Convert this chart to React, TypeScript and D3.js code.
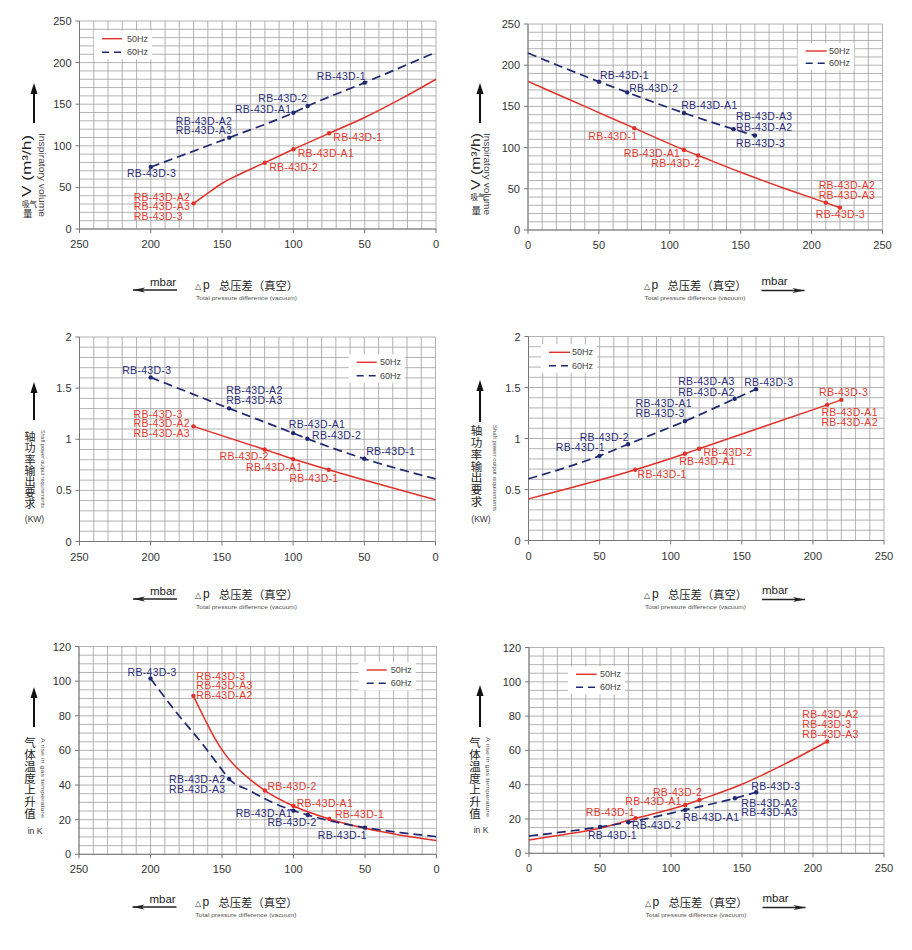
import React from 'react';
import * as d3 from 'd3';

// ---------- tick values ----------
const xTicks = [0, 50, 100, 150, 200, 250];
const volTicks = [0, 50, 100, 150, 200, 250];
const powTicks = [0, 0.5, 1, 1.5, 2];
const tempTicks = [0, 20, 40, 60, 80, 100, 120];

// ---------- series (x = mbar, y = value) ----------
// Inspiratory volume, left (reversed x)
const volL60 = [[200, 74.5], [145, 109.8], [100, 139.8], [90, 147.8], [50, 175.9], [0, 212.5]];
const volL50 = [[170, 30.8], [160, 43], [150, 55], [140, 64], [120, 79.7], [100, 95.8], [75, 115], [50, 134], [25, 156], [0, 180]];
const volL60Pts = [[200, 74.5], [145, 109.8], [100, 139.8], [90, 147.8], [50, 175.9]];
const volL50Pts = [[170, 30.8], [120, 79.7], [100, 95.8], [75, 115]];
// Inspiratory volume, right
const volR60 = [[0, 214.7], [50, 180], [70, 167], [110, 142], [145, 122.4], [160, 114.7]];
const volR50 = [[0, 180.3], [25, 161.4], [50, 142.5], [75, 123.6], [110, 97.2], [120, 90.4], [150, 70], [180, 51], [210, 33.2], [220, 27.1]];
const volR60Pts = [[50, 180], [70, 167], [110, 142], [145, 122.4], [160, 114.7]];
const volR50Pts = [[75, 123.6], [110, 97.2], [120, 90.4], [210, 33.2], [220, 27.1]];
// Shaft power, left (reversed x)
const powL60 = [[200, 1.605], [145, 1.302], [100, 1.06], [90, 1.005], [50, 0.809], [0, 0.613]];
const powL50 = [[170, 1.126], [120, 0.9], [100, 0.806], [75, 0.701], [0, 0.408]];
const powL60Pts = [[200, 1.605], [145, 1.302], [100, 1.06], [90, 1.005], [50, 0.809]];
const powL50Pts = [[170, 1.126], [120, 0.9], [100, 0.806], [75, 0.701]];
// Shaft power, right
const powR60 = [[0, 0.605], [50, 0.83], [70, 0.944], [110, 1.17], [145, 1.389], [160, 1.484]];
const powR50 = [[0, 0.408], [75, 0.693], [110, 0.85], [120, 0.899], [210, 1.33], [220, 1.379]];
const powR60Pts = [[50, 0.83], [70, 0.944], [110, 1.17], [145, 1.389], [160, 1.484]];
const powR50Pts = [[75, 0.693], [110, 0.85], [120, 0.899], [210, 1.33], [220, 1.379]];
// Gas temperature rise, left (reversed x)
const tmpL60 = [[200, 101.5], [182, 82], [163, 63], [152, 51], [145, 43.5], [130, 36.5], [115, 30], [100, 25.2], [90, 22.7], [70, 18.5], [50, 15.4], [25, 12.5], [0, 10.2]];
const tmpL50 = [[170, 91.5], [162, 78], [155, 67], [148, 58], [142, 52], [130, 43], [120, 36.8], [100, 27.9], [75, 20.4], [50, 15], [25, 11], [0, 7.9]];
const tmpL60Pts = [[200, 101.5], [145, 43.5], [100, 25.2], [90, 22.7], [50, 15.4]];
const tmpL50Pts = [[170, 91.5], [120, 36.8], [100, 27.9], [75, 20.4]];
// Gas temperature rise, right
const tmpR60 = [[0, 10.1], [50, 15.4], [70, 18.1], [110, 25.3], [145, 32.1], [160, 35.6]];
const tmpR50 = [[0, 7.8], [25, 11], [50, 14.6], [75, 20.4], [110, 28.2], [120, 31.1], [150, 40.3], [180, 52], [210, 65.2]];
const tmpR60Pts = [[50, 15.4], [70, 18.1], [110, 25.3], [145, 32.1], [160, 35.6]];
const tmpR50Pts = [[75, 20.4], [110, 28.2], [120, 31.1], [210, 65.2]];

// ---------- point labels: [series, text, x, y(baseline)] ----------
const volLLabels = [
  ['60', 'RB-43D-1', 83.6, 179], ['60', 'RB-43D-2', 124.6, 153], ['60', 'RB-43D-A1', 141, 140],
  ['60', 'RB-43D-A2', 182.5, 125], ['60', 'RB-43D-A3', 182.5, 114], ['60', 'RB-43D-3', 216.7, 62],
  ['50', 'RB-43D-1', 72, 106], ['50', 'RB-43D-A1', 97, 87], ['50', 'RB-43D-2', 117, 70],
  ['50', 'RB-43D-A2', 212, 34], ['50', 'RB-43D-A3', 212, 23], ['50', 'RB-43D-3', 212, 11],
];
const volRLabels = [
  ['60', 'RB-43D-1', 50.7, 183], ['60', 'RB-43D-2', 71.4, 167], ['60', 'RB-43D-A1', 108, 146.7],
  ['60', 'RB-43D-A3', 146.7, 132.9], ['60', 'RB-43D-A2', 146.7, 120.7], ['60', 'RB-43D-3', 146.7, 101.3],
  ['50', 'RB-43D-1', 42.5, 109.4], ['50', 'RB-43D-A1', 67.6, 89], ['50', 'RB-43D-2', 87, 77],
  ['50', 'RB-43D-A2', 205, 49.8], ['50', 'RB-43D-A3', 205, 37.7], ['50', 'RB-43D-3', 203, 14.2],
];
const powLLabels = [
  ['60', 'RB-43D-3', 220, 1.638], ['60', 'RB-43D-A2', 147, 1.442], ['60', 'RB-43D-A3', 147, 1.344],
  ['60', 'RB-43D-A1', 103, 1.109], ['60', 'RB-43D-2', 86.7, 1.005], ['60', 'RB-43D-1', 48.7, 0.842],
  ['50', 'RB-43D-3', 212, 1.207], ['50', 'RB-43D-A2', 212, 1.116], ['50', 'RB-43D-A3', 212, 1.018],
  ['50', 'RB-43D-2', 151.6, 0.793], ['50', 'RB-43D-A1', 133, 0.685], ['50', 'RB-43D-1', 102.6, 0.581],
];
const powRLabels = [
  ['60', 'RB-43D-A3', 105.3, 1.52], ['60', 'RB-43D-A2', 105.3, 1.42], ['60', 'RB-43D-3', 151.7, 1.516],
  ['60', 'RB-43D-A1', 75.3, 1.304], ['60', 'RB-43D-3', 75.3, 1.206], ['60', 'RB-43D-2', 36, 0.977],
  ['60', 'RB-43D-1', 19.2, 0.873], ['50', 'RB-43D-3', 204.3, 1.412], ['50', 'RB-43D-A1', 206, 1.216],
  ['50', 'RB-43D-A2', 206, 1.118], ['50', 'RB-43D-2', 123, 0.83], ['50', 'RB-43D-A1', 106, 0.742],
  ['50', 'RB-43D-1', 76.7, 0.611],
];
const tmpLLabels = [
  ['60', 'RB-43D-3', 216, 103.2], ['50', 'RB-43D-3', 168, 100.7], ['50', 'RB-43D-A3', 168, 95.5],
  ['50', 'RB-43D-A2', 168, 89.8], ['60', 'RB-43D-A2', 187, 41.4], ['60', 'RB-43D-A3', 187, 35.6],
  ['50', 'RB-43D-2', 118.2, 37.4], ['50', 'RB-43D-A1', 97.8, 27.5], ['60', 'RB-43D-A1', 140.4, 21.8],
  ['50', 'RB-43D-1', 71, 20.8], ['60', 'RB-43D-2', 118.2, 16.6], ['60', 'RB-43D-1', 83, 8.9],
];
const tmpRLabels = [
  ['50', 'RB-43D-A2', 192.5, 78.8], ['50', 'RB-43D-3', 192.5, 72.9], ['50', 'RB-43D-A3', 192.5, 67.1],
  ['60', 'RB-43D-3', 156.6, 37], ['50', 'RB-43D-2', 87.3, 33.5], ['50', 'RB-43D-A1', 67.8, 28.2],
  ['60', 'RB-43D-A2', 149.5, 27.2], ['60', 'RB-43D-A3', 149.5, 21.8], ['60', 'RB-43D-A1', 108.5, 19.1],
  ['50', 'RB-43D-1', 40, 21.8], ['60', 'RB-43D-2', 72.5, 14], ['60', 'RB-43D-1', 41.5, 8.4],
];

const legendNames = ['50Hz', '60Hz'];
const xTitleCn = '总压差（真空）';
const xTitleEn = 'Total pressure difference (vacuum)';
const unitText = 'mbar';

// ---------- styles ----------
const FONT = '"Liberation Sans", Arial, Helvetica, sans-serif';
const CJK = '"Noto Sans CJK SC", "Noto Sans", sans-serif';
const RED = '#e2312a';
const NAVY = '#1f2870';
const LRED = '#e4392f';
const LNAVY = '#2a2e7c';
const GRID = '#a0a0a0';

type Pt = number[];

const panels = [
  {
    key: 'p1', left: 79.5, right: 436, top: 21, bottom: 229, reversed: true, yMax: 250, yStep: 10,
    yTicks: volTicks, s50: volL50, s60: volL60, m50: volL50Pts, m60: volL60Pts, labels: volLLabels,
    legend: { x0: 102, x1: 122, tx: 127, y1: 38.7, y2: 52.3 }, row: 0,
    yt: { type: 'vol', ax: 34, tip: 83, base: 123, rx: 27, ry: 197, rlen: 62, cn1: [22, 207], cn2: [23, 216.5], ex: 41.5, ey: 133, elen: 84 },
  },
  {
    key: 'p2', left: 528, right: 882.5, top: 24, bottom: 230, reversed: false, yMax: 250, yStep: 10,
    yTicks: volTicks, s50: volR50, s60: volR60, m50: volR50Pts, m60: volR60Pts, labels: volRLabels,
    legend: { x0: 805.7, x1: 826.7, tx: 829, y1: 51, y2: 63.3 }, row: 0,
    yt: { type: 'vol', ax: 480, tip: 83, base: 123, rx: 475.5, ry: 190, rlen: 57, cn1: [470.5, 200], cn2: [471.5, 214], ex: 487, ey: 133, elen: 82 },
  },
  {
    key: 'p3', left: 79.5, right: 435.5, top: 337, bottom: 541.5, reversed: true, yMax: 2, yStep: 0.1,
    yTicks: powTicks, s50: powL50, s60: powL60, m50: powL50Pts, m60: powL60Pts, labels: powLLabels,
    legend: { x0: 356.7, x1: 376.7, tx: 380, y1: 362.3, y2: 375.7 }, row: 1,
    yt: { type: 'stack', ax: 34, tip: 382, base: 420, cn: '轴功率输出要求', cx: 30, cy0: 431.5, cstep: 11.2, csize: 11,
      unit: '(KW)', ux: 34.5, uy: 522, en: 'Shaft power output requirements', ex: 43.3, ey: 430, elen: 78 },
  },
  {
    key: 'p4', left: 528.5, right: 884, top: 336.5, bottom: 540.5, reversed: false, yMax: 2, yStep: 0.1,
    yTicks: powTicks, s50: powR50, s60: powR60, m50: powR50Pts, m60: powR60Pts, labels: powRLabels,
    legend: { x0: 549, x1: 570, tx: 572, y1: 352.3, y2: 365.7 }, row: 1,
    yt: { type: 'stack', ax: 480, tip: 380, base: 422, cn: '轴功率输出要求', cx: 476.5, cy0: 425, cstep: 11.8, csize: 11.5,
      unit: '(KW)', ux: 481, uy: 522, en: 'Shaft power output requirements', ex: 495, ey: 425, elen: 86 },
  },
  {
    key: 'p5', left: 79, right: 436.5, top: 646.5, bottom: 854.3, reversed: true, yMax: 120, yStep: 5,
    yTicks: tempTicks, s50: tmpL50, s60: tmpL60, m50: tmpL50Pts, m60: tmpL60Pts, labels: tmpLLabels,
    legend: { x0: 366.7, x1: 386.7, tx: 390.7, y1: 670, y2: 683.3 }, row: 2,
    yt: { type: 'stack', ax: 34, tip: 687, base: 727, cn: '气体温度上升值', cx: 30, cy0: 737, cstep: 11.8, csize: 11.5,
      unit: 'in K', ux: 35, uy: 834, en: 'A rise in gas temperature', ex: 43.3, ey: 738, elen: 80 },
  },
  {
    key: 'p6', left: 529, right: 884, top: 647.5, bottom: 853.3, reversed: false, yMax: 120, yStep: 5,
    yTicks: tempTicks, s50: tmpR50, s60: tmpR60, m50: tmpR50Pts, m60: tmpR60Pts, labels: tmpRLabels,
    legend: { x0: 576, x1: 596.7, tx: 600, y1: 674.3, y2: 687.3 }, row: 2,
    yt: { type: 'stack', ax: 480, tip: 685, base: 727, cn: '气体温度上升值', cx: 475, cy0: 737, cstep: 11.8, csize: 11.5,
      unit: 'in K', ux: 481, uy: 833, en: 'A rise in gas temperature', ex: 487.5, ey: 737, elen: 80 },
  },
];

const rowMbarY = [285.5, 594.5, 902.5];

function fmt(v: number) {
  return d3.format('~g')(v);
}

function VArrow({ x, tip, base }: { x: number; tip: number; base: number }) {
  return (
    <g>
      <line x1={x} x2={x} y1={base} y2={tip + 8} stroke="#111" strokeWidth={2} />
      <path d={`M${x},${tip} L${x - 3.5},${tip + 11} L${x + 3.5},${tip + 11} Z`} fill="#111" />
    </g>
  );
}

function HArrow({ x0, x1, y, dir }: { x0: number; x1: number; y: number; dir: 'left' | 'right' }) {
  const tipX = dir === 'left' ? x0 : x1;
  const s = dir === 'left' ? 1 : -1;
  return (
    <g>
      <line x1={x0} x2={x1} y1={y} y2={y} stroke="#222" strokeWidth={1.4} />
      <path d={`M${tipX},${y} L${tipX + s * 12},${y - 2.6} L${tipX + s * 9},${y} L${tipX + s * 12},${y + 2.6} Z`} fill="#222" />
    </g>
  );
}

function YTitle({ yt }: { yt: any }) {
  if (yt.type === 'vol') {
    return (
      <g>
        <VArrow x={yt.ax} tip={yt.tip} base={yt.base} />
        <text transform={`translate(${yt.rx},${yt.ry}) rotate(-90)`} fontFamily={FONT} fontSize={12.5}
          dominantBaseline="central" fill="#222" textLength={yt.rlen} lengthAdjust="spacingAndGlyphs">V (m³/h)</text>
        <text fontFamily={CJK} fill="#222">
          <tspan x={yt.cn1[0]} y={yt.cn1[1]} fontSize={7.5}>吸气</tspan>
          <tspan x={yt.cn2[0]} y={yt.cn2[1]} fontSize={9.5}>量</tspan>
        </text>
        <text transform={`translate(${yt.ex},${yt.ey}) rotate(90)`} fontFamily={FONT} fontSize={9}
          dominantBaseline="central" fill="#444" textLength={yt.elen} lengthAdjust="spacingAndGlyphs">Inspiratory volume</text>
      </g>
    );
  }
  return (
    <g>
      <VArrow x={yt.ax} tip={yt.tip} base={yt.base} />
      <text x={yt.cx} y={yt.cy0} fontFamily={CJK} fontSize={yt.csize} fill="#222"
        style={{ writingMode: 'vertical-rl' as any }} letterSpacing={yt.cstep - yt.csize}>{yt.cn}</text>
      <text x={yt.ux} y={yt.uy} textAnchor="middle" fontFamily={FONT} fontSize={8.5} fill="#333">{yt.unit}</text>
      <text transform={`translate(${yt.ex},${yt.ey}) rotate(90)`} fontFamily={FONT} fontSize={6}
        dominantBaseline="central" fill="#555" textLength={yt.elen} lengthAdjust="spacingAndGlyphs">{yt.en}</text>
    </g>
  );
}

function XTitle({ left, row, reversed }: { left: number; row: number; reversed: boolean }) {
  const my = rowMbarY[row];
  return (
    <g>
      {reversed ? (
        <>
          <HArrow x0={left + 53.5} x1={left + 97.5} y={my + 4.5} dir="left" />
          <text x={left + 70.5} y={my} fontFamily={FONT} fontSize={11.5} fill="#222">{unitText}</text>
        </>
      ) : (
        <>
          <HArrow x0={left + 233.5} x1={left + 276.5} y={my + 5} dir="right" />
          <text x={left + 233.5} y={my - 1} fontFamily={FONT} fontSize={11.5} fill="#222">{unitText}</text>
        </>
      )}
      <text fontFamily={FONT} fill="#222">
        <tspan x={left + 115.5} y={my + 3} fontSize={8} fill="#333">△</tspan>
        <tspan x={left + 123.5} y={my + 3.5} fontSize={12}>p</tspan>
      </text>
      <text x={left + 139.5} y={my + 4.5} fontFamily={CJK} fontSize={11.3} fill="#222">{xTitleCn}</text>
      <text x={left + 116.5} y={my + 14} fontFamily={FONT} fontSize={6} fill="#555"
        textLength={101} lengthAdjust="spacingAndGlyphs">{xTitleEn}</text>
    </g>
  );
}

function groupLabels(labels: any[]) {
  const groups: { s: string; x: number; items: any[] }[] = [];
  labels.forEach((l) => {
    const g = groups.find((gg) => gg.s === l[0] && gg.x === l[2]);
    if (g) g.items.push(l);
    else groups.push({ s: l[0], x: l[2], items: [l] });
  });
  return groups;
}

function Panel({ p }: { p: any }) {
  const x = d3.scaleLinear().domain(p.reversed ? [250, 0] : [0, 250]).range([p.left, p.right]);
  const y = d3.scaleLinear().domain([0, p.yMax]).range([p.bottom, p.top]);
  const line = d3.line<Pt>().x((d) => x(d[0])).y((d) => y(d[1])).curve(d3.curveMonotoneX);
  const sorted = (pts: Pt[]) => [...pts].sort((a, b) => x(a[0]) - x(b[0]));
  const xGrid = d3.range(0, 26).map((i) => i * 10);
  const nY = Math.round(p.yMax / p.yStep);
  const yGrid = d3.range(0, nY + 1).map((i) => i * p.yStep);
  const lg = p.legend;
  const groups = groupLabels(p.labels);
  return (
    <g>
      {/* grid */}
      {yGrid.map((v: number, i: number) => (
        <line key={'h' + i} x1={p.left} x2={p.right} y1={y(v)} y2={y(v)} stroke={GRID} strokeWidth={0.8} />
      ))}
      {xGrid.map((v: number, i: number) => (
        <line key={'v' + i} x1={x(v)} x2={x(v)} y1={p.top} y2={p.bottom} stroke={GRID} strokeWidth={0.8} />
      ))}
      {/* axes */}
      <line x1={p.left} x2={p.left} y1={p.top} y2={p.bottom} stroke="#777" strokeWidth={1} />
      <line x1={p.left} x2={p.right} y1={p.bottom} y2={p.bottom} stroke="#777" strokeWidth={1} />
      {p.yTicks.map((v: number) => (
        <g key={'yt' + v}>
          <line x1={p.left - 4} x2={p.left} y1={y(v)} y2={y(v)} stroke="#777" />
          <text x={p.left - 8} y={y(v) + 4} textAnchor="end" fontFamily={FONT} fontSize={11} fill="#333">{fmt(v)}</text>
        </g>
      ))}
      {xTicks.map((v: number) => (
        <g key={'xt' + v}>
          <line x1={x(v)} x2={x(v)} y1={p.bottom} y2={p.bottom + 4} stroke="#777" />
          <text x={x(v)} y={p.bottom + 19} textAnchor="middle" fontFamily={FONT} fontSize={11} fill="#333">{fmt(v)}</text>
        </g>
      ))}
      {/* legend */}
      <rect x={lg.x0 - 8} y={lg.y1 - 8} width={lg.tx + 25 - (lg.x0 - 8)} height={lg.y2 + 7 - (lg.y1 - 8)} fill="#fff" />
      <line x1={lg.x0} x2={lg.x1} y1={lg.y1} y2={lg.y1} stroke={RED} strokeWidth={1.4} />
      <line x1={lg.x0} x2={lg.x1} y1={lg.y2} y2={lg.y2} stroke={NAVY} strokeWidth={1.6} strokeDasharray="7,5" />
      <text fontFamily={FONT} fontSize={9} fill="#444">
        <tspan x={lg.tx} y={lg.y1 + 3}>{legendNames[0]}</tspan>
        <tspan x={lg.tx} y={lg.y2 + 3}>{legendNames[1]}</tspan>
      </text>
      {/* series */}
      <path d={line(sorted(p.s50)) || ''} fill="none" stroke={RED} strokeWidth={1.5} />
      <path d={line(sorted(p.s60)) || ''} fill="none" stroke={NAVY} strokeWidth={1.7} strokeDasharray="9,5" />
      {p.m50.map((d: Pt, i: number) => (
        <circle key={'m50' + i} cx={x(d[0])} cy={y(d[1])} r={2.2} fill={RED} />
      ))}
      {p.m60.map((d: Pt, i: number) => (
        <circle key={'m60' + i} cx={x(d[0])} cy={y(d[1])} r={2.2} fill={NAVY} />
      ))}
      {groups.map((g, i) => (
        <text key={'lb' + i} fontFamily={FONT} fontSize={10.5} letterSpacing={0.3}
          fill={g.s === '50' ? LRED : LNAVY}>
          {g.items.map((l: any[], j: number) => (
            <tspan key={j} x={x(l[2])} y={y(l[3])}>{l[1]}</tspan>
          ))}
        </text>
      ))}
      <YTitle yt={p.yt} />
      <XTitle left={p.left} row={p.row} reversed={p.reversed} />
    </g>
  );
}

export default function App() {
  return (
    <svg width={912} height={950} viewBox="0 0 912 950"
      style={{ position: 'absolute', left: 0, top: 0, background: '#fff' }}>
      <rect x={0} y={0} width={912} height={950} fill="#fff" />
      {panels.map((p) => (
        <Panel key={p.key} p={p} />
      ))}
    </svg>
  );
}
